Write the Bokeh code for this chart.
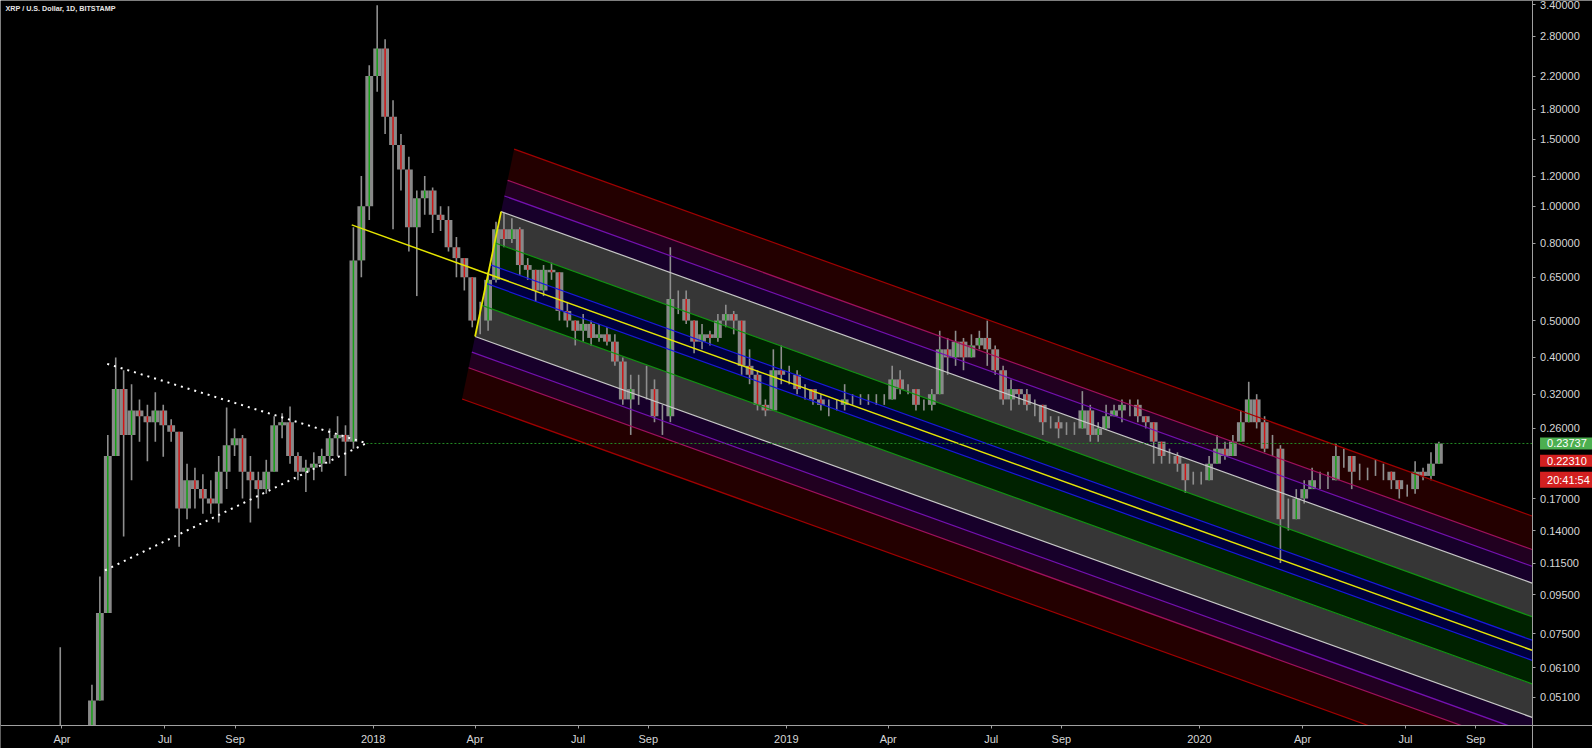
import numpy as np
import pandas as pd
from bokeh.plotting import figure
from bokeh.models import FixedTicker, PrintfTickFormatter, Label, Range1d
from bokeh.embed import file_html
from bokeh.resources import INLINE

TITLE = "XRP / U.S. Dollar, 1D, BITSTAMP"

# ---- weekly candles, weeks start on Monday ----
week_start = "2017-03-27"
first_open = 0.0093
close = [
    # 2017
    0.035, 0.038, 0.036, 0.033, 0.05, 0.085, 0.22, 0.33, 0.25, 0.29,
    0.28, 0.27, 0.29, 0.265, 0.255, 0.16, 0.19, 0.18, 0.17, 0.165,
    0.2, 0.235, 0.245, 0.2, 0.19, 0.18, 0.2, 0.265, 0.27, 0.22,
    0.2, 0.205, 0.21, 0.22, 0.245, 0.25, 0.24, 0.72, 1.0, 2.2,
    # 2018
    2.6, 1.72, 1.45, 1.25, 0.88, 1.05, 1.1, 0.95, 0.92, 0.78,
    0.73, 0.65, 0.5, 0.5, 0.64, 0.87, 0.82, 0.87, 0.7, 0.68,
    0.6, 0.68, 0.67, 0.53, 0.5, 0.47, 0.49, 0.45, 0.46, 0.44,
    0.39, 0.31, 0.33, 0.33, 0.33, 0.28, 0.28, 0.57, 0.57, 0.5,
    0.44, 0.46, 0.45, 0.5, 0.52, 0.5, 0.38, 0.36, 0.3, 0.29,
    0.37, 0.36, 0.36,
    # 2019
    0.33, 0.33, 0.31, 0.3, 0.3, 0.3, 0.31, 0.31, 0.31, 0.31,
    0.31, 0.31, 0.35, 0.33, 0.33, 0.3, 0.3, 0.32, 0.42, 0.4,
    0.44, 0.4, 0.43, 0.45, 0.42, 0.37, 0.31, 0.33, 0.32, 0.3,
    0.3, 0.27, 0.27, 0.26, 0.26, 0.26, 0.29, 0.25, 0.26, 0.28,
    0.29, 0.3, 0.3, 0.28, 0.27, 0.24, 0.22, 0.22, 0.21, 0.19,
    0.19, 0.19,
    # 2020
    0.21, 0.23, 0.22, 0.24, 0.27, 0.31, 0.27, 0.23, 0.23, 0.15,
    0.15, 0.17, 0.18, 0.19, 0.19, 0.19, 0.22, 0.22, 0.2, 0.2,
    0.2, 0.2, 0.2, 0.19, 0.18, 0.18, 0.2, 0.195, 0.21, 0.23737,
]
high = [
    0.069, 0.042, 0.04, 0.037, 0.055, 0.106, 0.25, 0.40, 0.37, 0.34,
    0.31, 0.30, 0.324, 0.30, 0.275, 0.25, 0.21, 0.205, 0.197, 0.19,
    0.22, 0.295, 0.26, 0.25, 0.22, 0.2, 0.215, 0.28, 0.285, 0.297,
    0.225, 0.215, 0.225, 0.23, 0.26, 0.28, 0.265, 0.88, 1.2, 2.35,
    3.38, 2.75, 1.9, 1.55, 1.35, 1.1, 1.2, 1.12, 1.0, 1.0,
    0.83, 0.73, 0.65, 0.56, 0.67, 0.91, 0.96, 0.93, 0.88, 0.73,
    0.68, 0.7, 0.71, 0.62, 0.56, 0.5, 0.52, 0.5, 0.49, 0.48,
    0.46, 0.4, 0.36, 0.36, 0.38, 0.35, 0.3, 0.78, 0.6, 0.6,
    0.5, 0.49, 0.47, 0.52, 0.55, 0.53, 0.48, 0.42, 0.37, 0.31,
    0.42, 0.43, 0.38,
    0.37, 0.34, 0.33, 0.32, 0.31, 0.31, 0.34, 0.32, 0.32, 0.32,
    0.32, 0.32, 0.38, 0.37, 0.34, 0.33, 0.31, 0.33, 0.47, 0.45,
    0.47, 0.45, 0.46, 0.47, 0.5, 0.43, 0.38, 0.35, 0.33, 0.33,
    0.31, 0.3, 0.28, 0.28, 0.27, 0.27, 0.326, 0.3, 0.27, 0.3,
    0.3, 0.31, 0.31, 0.31, 0.28, 0.27, 0.235, 0.23, 0.225, 0.21,
    0.2, 0.2,
    0.22, 0.25, 0.24, 0.25, 0.29, 0.345, 0.32, 0.28, 0.25, 0.235,
    0.17, 0.18, 0.19, 0.205, 0.2, 0.2, 0.237, 0.23, 0.21, 0.21,
    0.205, 0.215, 0.21, 0.2, 0.19, 0.185, 0.213, 0.205, 0.225, 0.24,
]
low = [
    0.009, 0.03, 0.031, 0.03, 0.033, 0.05, 0.1, 0.22, 0.135, 0.19,
    0.24, 0.213, 0.24, 0.219, 0.24, 0.127, 0.15, 0.16, 0.155, 0.155,
    0.147, 0.18, 0.22, 0.17, 0.147, 0.16, 0.175, 0.2, 0.245, 0.21,
    0.19, 0.177, 0.19, 0.2, 0.21, 0.22, 0.195, 0.23, 0.65, 0.92,
    2.0, 1.55, 0.87, 1.1, 0.76, 0.58, 0.95, 0.85, 0.86, 0.76,
    0.65, 0.6, 0.48, 0.46, 0.47, 0.63, 0.78, 0.8, 0.66, 0.64,
    0.56, 0.58, 0.64, 0.5, 0.48, 0.43, 0.44, 0.43, 0.44, 0.43,
    0.38, 0.3, 0.25, 0.3, 0.31, 0.27, 0.25, 0.27, 0.52, 0.49,
    0.41, 0.42, 0.43, 0.44, 0.48, 0.46, 0.36, 0.34, 0.29, 0.28,
    0.29, 0.34, 0.34,
    0.32, 0.31, 0.3, 0.29, 0.28, 0.29, 0.29, 0.3, 0.3, 0.3,
    0.3, 0.3, 0.31, 0.32, 0.32, 0.29, 0.29, 0.29, 0.32, 0.36,
    0.38, 0.37, 0.4, 0.42, 0.38, 0.36, 0.3, 0.29, 0.3, 0.29,
    0.28, 0.25, 0.26, 0.245, 0.25, 0.25, 0.26, 0.24, 0.24, 0.26,
    0.28, 0.27, 0.28, 0.27, 0.26, 0.21, 0.21, 0.21, 0.2, 0.176,
    0.185, 0.185,
    0.19, 0.21, 0.215, 0.22, 0.24, 0.27, 0.26, 0.225, 0.22, 0.115,
    0.14, 0.15, 0.165, 0.18, 0.18, 0.18, 0.19, 0.205, 0.18, 0.19,
    0.19, 0.195, 0.19, 0.18, 0.17, 0.172, 0.175, 0.19, 0.19, 0.21,
]

last_price = 0.23737
prev_price = 0.22310
countdown = "20:41:54"

# ---- pitchfork drawing: handle A, tines B (upper) and C (lower) ----
pf_dates = ["2017-12-13", "2018-04-24", "2018-04-01"]
pf_prices = [0.893, 0.968, 0.454]
pf_levels = [0.15, 0.5, 1.0, 1.25, 1.5, 2.0]
pf_line_colors = ["#1818e0", "#129212", "#c8c8c8", "#7410b0", "#a0105c", "#a00000"]
pf_fill_colors = ["#00003e", "#002200", "#363636", "#17002a", "#210020", "#230000"]
pf_median_color = "#e6e600"

# ---- triangle drawing ----
tri_dates = ["2017-05-11", "2017-12-26", "2017-05-09"]
tri_prices = [0.3846, 0.2378, 0.110]
hline_start = "2017-12-26"

# ---- axes ----
x_tick_dates = ["2017-04-01", "2017-07-01", "2017-09-01", "2018-01-01", "2018-04-01",
                "2018-07-01", "2018-09-01", "2019-01-01", "2019-04-01", "2019-07-01",
                "2019-09-01", "2020-01-01", "2020-04-01", "2020-07-01", "2020-09-01"]
x_tick_labels = ["Apr", "Jul", "Sep", "2018", "Apr", "Jul", "Sep", "2019", "Apr",
                 "Jul", "Sep", "2020", "Apr", "Jul", "Sep"]
y_ticks = [3.4, 2.8, 2.2, 1.8, 1.5, 1.2, 1.0, 0.8, 0.65, 0.5, 0.4, 0.32, 0.26,
           0.17, 0.14, 0.115, 0.095, 0.075, 0.061, 0.051]
x_view = ["2017-02-05 17:00", "2020-12-13 05:00"]
y_view = [0.03737, 3.479]
price_axis_at = "2020-10-20 19:00"   # time where the price scale begins
time_axis_at = 0.04294               # price where the time scale begins

FONT = "Liberation Sans"
EPOCH = pd.Timestamp("1970-01-01")


def ms(ts):
    return (pd.Timestamp(ts) - EPOCH) / pd.Timedelta(milliseconds=1)


DAY = 86400000.0
x_axis_ms = ms(price_axis_at)

p = figure(width=1592, height=748, x_axis_type="datetime", y_axis_type="log",
           y_axis_location="right", output_backend="svg", toolbar_location=None,
           x_range=Range1d(ms(x_view[0]), ms(x_view[1])),
           y_range=Range1d(y_view[0], y_view[1]),
           background_fill_color="#000000", border_fill_color="#000000",
           min_border=0)
p.outline_line_color = None
p.grid.visible = False

# ---- pitchfork geometry in (time, log10 price) ----
A = np.array([ms(pf_dates[0]), np.log10(pf_prices[0])])
B = np.array([ms(pf_dates[1]), np.log10(pf_prices[1])])
C = np.array([ms(pf_dates[2]), np.log10(pf_prices[2])])
M = (B + C) / 2.0
slope = (M[1] - A[1]) / (M[0] - A[0])
x_end = x_axis_ms


def tine(k):
    return M + k * (B - M) if k >= 0 else M + (-k) * (C - M)


def far(P):
    return np.array([x_end, P[1] + slope * (x_end - P[0])])


bounds = [-l for l in pf_levels[::-1]] + pf_levels
xs, ys, fills = [], [], []
for lo, hi in zip(bounds[:-1], bounds[1:]):
    if lo < 0 < hi:
        col = pf_fill_colors[0]
    else:
        col = pf_fill_colors[pf_levels.index(max(abs(lo), abs(hi)))]
    P1, P2 = tine(lo), tine(hi)
    E1, E2 = far(P1), far(P2)
    xs.append([P1[0], P2[0], E2[0], E1[0]])
    ys.append([10 ** P1[1], 10 ** P2[1], 10 ** E2[1], 10 ** E1[1]])
    fills.append(col)
p.patches(xs=xs, ys=ys, fill_color=fills, line_color=None)

# ---- candles ----
dates = pd.date_range(week_start, periods=len(close), freq="7D")
xc = [ms(d) + 3.5 * DAY for d in dates]
opens = [first_open] + close[:-1]
top = [max(o, c) for o, c in zip(opens, close)]
bot = [min(o, c) for o, c in zip(opens, close)]
cols = ["#14a014" if c >= o else "#d01414" for o, c in zip(opens, close)]
p.segment(x0=xc, y0=low, x1=xc, y1=high, line_color="#8e8e8e", line_width=1.6)
p.vbar(x=xc, width=6.9 * DAY, top=top, bottom=bot, fill_color="#898989",
       line_color=None)
p.segment(x0=xc, y0=opens, x1=xc, y1=close, line_color=cols, line_width=1.5)

# ---- pitchfork lines ----
for k in bounds:
    P = tine(k)
    E = far(P)
    col = pf_line_colors[pf_levels.index(abs(k))]
    p.line([P[0], E[0]], [10 ** P[1], 10 ** E[1]], line_color=col, line_width=1.2)
Ea = far(A)
p.line([A[0], Ea[0]], [10 ** A[1], 10 ** Ea[1]], line_color=pf_median_color,
       line_width=1.5)
p.line([B[0], C[0]], [10 ** B[1], 10 ** C[1]], line_color=pf_median_color,
       line_width=1.8)

# ---- triangle ----
for i in (0, 2):
    p.line([ms(tri_dates[i]), ms(tri_dates[1])], [tri_prices[i], tri_prices[1]],
           line_color="#ffffff", line_width=2, line_dash="2 5")

# ---- last price line ----
p.line([ms(hline_start), x_end], [last_price, last_price], line_color="#248a24",
       line_width=1, line_dash="2 2")

# ---- keep the time-scale strip clear (black like the background) ----
p.quad(left=ms(x_view[0]), right=ms(x_view[1]), bottom=y_view[0],
       top=time_axis_at, fill_color="#000000", line_color=None)

# ---- axes: drawn inside the canvas like the TradingView scales ----
xt = [ms(d) for d in x_tick_dates]
p.xaxis.ticker = FixedTicker(ticks=xt)
p.xaxis.major_label_overrides = {t: lab for t, lab in zip(xt, x_tick_labels)}
p.xaxis.fixed_location = time_axis_at
p.yaxis.ticker = FixedTicker(ticks=y_ticks)
p.yaxis.formatter = PrintfTickFormatter(format="%.5f")
p.yaxis.fixed_location = x_axis_ms
for ax in (p.xaxis, p.yaxis):
    ax.axis_line_color = "#a0a0a0"
    ax.major_tick_line_color = "#a0a0a0"
    ax.minor_tick_line_color = None
    ax.major_tick_in = 0
    ax.major_tick_out = 3
    ax.major_label_text_color = "#d6d6d6"
    ax.major_label_text_font = FONT
    ax.major_label_text_font_size = "11px"
p.yaxis.major_label_standoff = 5
p.xaxis.major_label_standoff = 4


def tag(price, text, color, yoff):
    p.add_layout(Label(x=x_axis_ms, y=price, x_units="data", y_units="data",
                       x_offset=8, y_offset=yoff, text=text, text_color="#ffffff",
                       text_font=FONT, text_font_size="11px",
                       text_baseline="middle", text_align="left",
                       background_fill_color=color,
                       padding=dict(left=7, right=9, top=2, bottom=2)))


tag(last_price, "%.5f" % last_price, "#4caf50", 0)
tag(prev_price, "%.5f" % prev_price, "#d32020", -7)
tag(prev_price, countdown, "#d32020", -26)

p.add_layout(Label(x=ms(x_view[0]), y=y_view[1], x_offset=5, y_offset=-8,
                   text=TITLE, text_color="#e6e6e6", text_font=FONT,
                   text_font_size="7.2px", text_font_style="bold",
                   text_baseline="middle", text_align="left"))

open("out.html", "w").write(file_html(p, INLINE))
